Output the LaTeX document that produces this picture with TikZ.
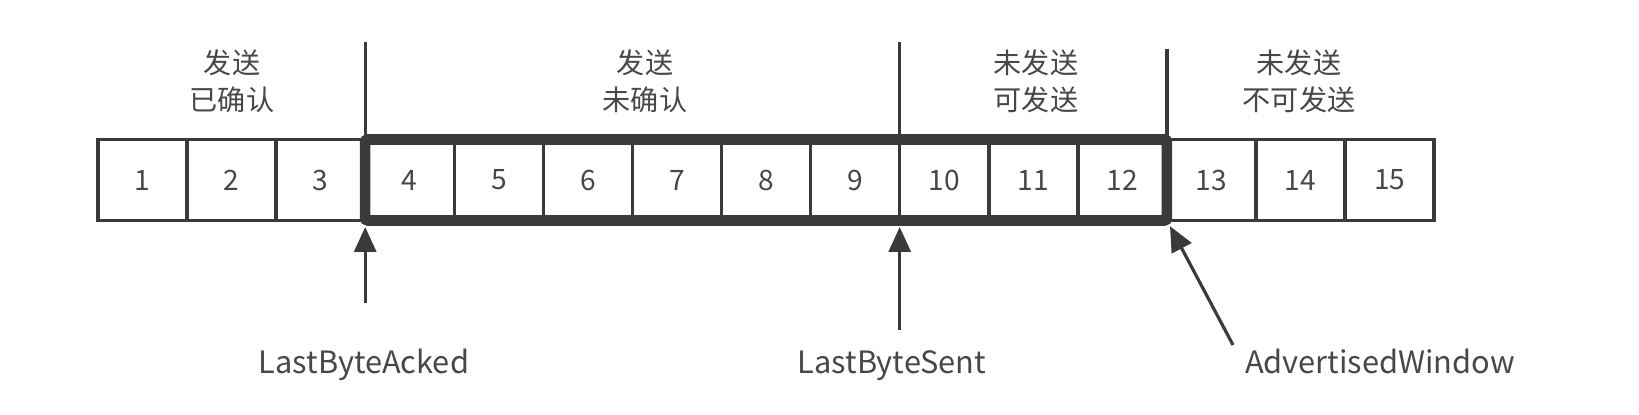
\documentclass[tikz,border=0pt]{standalone}
\usepackage{fontspec}
\setmainfont{Noto Sans CJK SC}
\usetikzlibrary{arrows.meta,positioning,calc}
\definecolor{Ink}{HTML}{3A3A3A}
\definecolor{Txt}{HTML}{474747}
\tikzset{
  >=Latex,
  cell/.style={rectangle,draw=Ink,line width=2pt,minimum width=1.782cm,minimum height=1.62cm,
    inner sep=0pt,outer sep=0pt,text=Txt,font=\fontsize{16pt}{20pt}\selectfont},
  window/.style={draw=Ink,line width=6pt,rounded corners=1.5pt},
  divider/.style={draw=Ink,line width=1.8pt},
  pointer/.style={draw=Ink,line width=1.8pt,-{Triangle[length=0.5cm,width=0.44cm]},shorten >=1.3mm},
  head/.style={align=center,text=Txt,font=\fontsize{16pt}{21pt}\selectfont},
  lab/.style={anchor=base,text=Txt,font=\fontsize{17.5pt}{21pt}\selectfont}
}
\begin{document}
\begin{tikzpicture}[x=0.02cm,y=-0.02cm]
    \useasboundingbox (0,0) rectangle (1639,415);
    % the 15 bytes
    \node[cell] (c1) at (142.5,180) {1};
    \foreach \i [count=\j from 1] in {2,...,15}
      \node[cell,right=0 of c\j] (c\i) {\i};
    % usable window
    \draw[window] (c4.north west) rectangle (c12.south east);
    % group dividers
    \coordinate (d1) at (c4.north west |- 0,42);
    \coordinate (d2) at (c10.north west |- 0,42);
    \coordinate (d3) at (c12.north east |- 0,49);
    \draw[divider] (d1)--(c4.north west);
    \draw[divider] (d2)--(c10.north west);
    \draw[divider] (d3)--(c12.north east);
    % group headers
    \node[head] (h1) at (232,81) {发送\\已确认};
    \node[head] (h2) at (645,81) {发送\\未确认};
    \node[head] (h3) at (1036,81) {未发送\\可发送};
    \node[head] (h4) at (1299,81) {未发送\\不可发送};
    % pointers
    \node[lab] (acked) at (364,373) {LastByteAcked};
    \node[lab] (sent) at (892,373) {LastByteSent};
    \node[lab] (adv) at (1380,373) {AdvertisedWindow};
    \coordinate (p1) at (c4.south west |- 0,303);
    \coordinate (p2) at (c10.south west |- 0,330);
    \coordinate (p3) at (1233,345);
    \draw[pointer] (p1)--(c4.south west);
    \draw[pointer] (p2)--(c10.south west);
    \draw[pointer] (p3)--(c12.south east);
  \end{tikzpicture}
\end{document}
